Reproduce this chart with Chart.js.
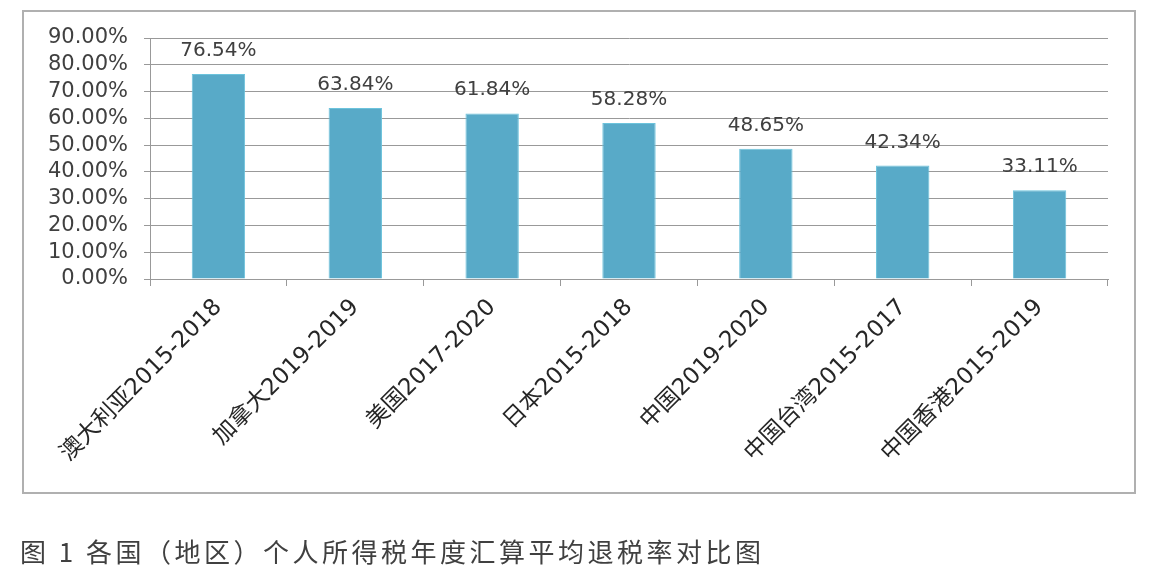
<!DOCTYPE html>
<html>
<head>
<meta charset="utf-8">
<script src="https://cdn.jsdelivr.net/npm/chart.js@4.4.0/dist/chart.umd.min.js"></script>
<style>
  body { margin: 0; background: #fff; }
  #wrap { position: relative; width: 1170px; height: 577px; }
  #frame { position: absolute; left: 22px; top: 10px; width: 1110px; height: 480px; border: 2px solid #b0b0b0; pointer-events: none; }
  #caption { position: absolute; left: 20px; top: 532px; font: 26px "Noto Sans CJK SC", sans-serif; color: #404040; letter-spacing: 3.5px; white-space: nowrap; }
  canvas { position: absolute; left: 0; top: 0; }
</style>
</head>
<body>
<div id="wrap">
  <canvas id="meuGrafico" width="1170" height="577"></canvas>
  <div id="frame"></div>
  <div id="caption">图 1 各国（地区）个人所得税年度汇算平均退税率对比图</div>
</div>
<script>
// dados do grafico
const regioes = ['澳大利亚2015-2018', '加拿大2019-2019', '美国2017-2020', '日本2015-2018', '中国2019-2020', '中国台湾2015-2017', '中国香港2015-2019'];
const taxas = [76.54, 63.84, 61.84, 58.28, 48.65, 42.34, 33.11];
const yMin = 0, yMax = 90, yStep = 10;

function pct(v) { return v.toFixed(2) + '%'; }

// rotulos em cima das barras
const rotulos = {
  id: 'rotulos',
  afterDatasetsDraw(chart) {
    const ctx = chart.ctx;
    const meta = chart.getDatasetMeta(0);
    ctx.save();
    ctx.font = '20px "DejaVu Sans"';
    ctx.fillStyle = '#404040';
    ctx.textAlign = 'center';
    ctx.textBaseline = 'alphabetic';
    meta.data.forEach((bar, i) => {
      ctx.fillText(pct(taxas[i]), bar.x, bar.y - 18);
    });
    ctx.restore();
  }
};

const contexto = document.getElementById('meuGrafico').getContext('2d');
const meuGrafico = new Chart(contexto, {
  type: 'bar',
  data: {
    labels: regioes,
    datasets: [{
      data: taxas,
      backgroundColor: '#58aac8',
      borderColor: '#6cc3dc',
      borderWidth: 1,
      categoryPercentage: 1,
      barPercentage: 0.39
    }]
  },
  options: {
    responsive: false,
    animation: false,
    layout: { padding: { top: 38, right: 62, bottom: 0, left: 0 } },
    plugins: { legend: { display: false }, tooltip: { enabled: false } },
    scales: {
      x: {
        grid: { display: true, drawOnChartArea: false, drawTicks: true, tickLength: 7, color: '#999', offset: true },
        border: { display: true, color: '#999' },
        ticks: {
          minRotation: 45, maxRotation: 45, autoSkip: false, padding: 8,
          color: '#262626',
          font: { family: '"DejaVu Sans", "Noto Sans CJK SC"', size: 23 }
        },
        afterFit(scale) { scale.height = 298; }
      },
      y: {
        min: yMin, max: yMax,
        grid: { color: '#999', tickLength: 6 },
        border: { display: true, color: '#999' },
        ticks: {
          stepSize: yStep, padding: 16, autoSkip: false,
          color: '#404040',
          font: { family: '"DejaVu Sans"', size: 21 },
          callback: (v) => pct(v)
        },
        afterFit(scale) { scale.width = 150; }
      }
    }
  },
  plugins: [rotulos]
});
</script>
</body>
</html>
